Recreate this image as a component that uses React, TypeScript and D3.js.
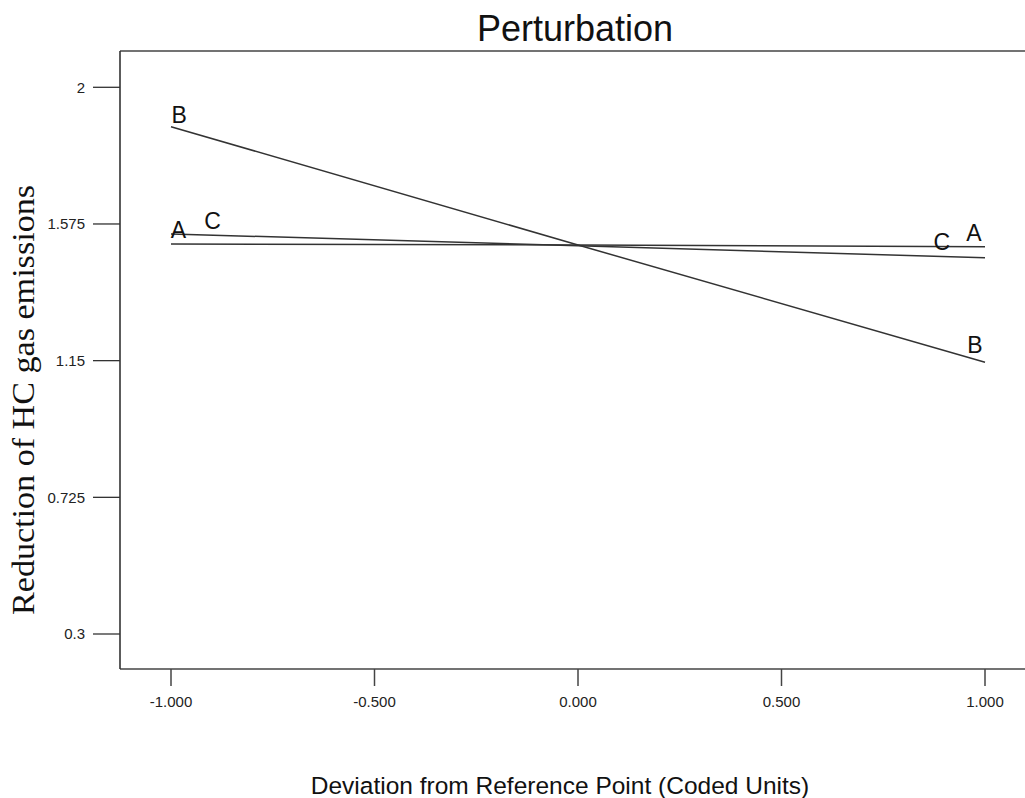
import React from "react";
import * as d3 from "d3";

// Coded deviation points
const deviations = [-1, 0, 1];
// Series values (Reduction of HC gas emissions)
const seriesA = [1.513, 1.5095, 1.504];
const seriesB = [1.8775, 1.5097, 1.145];
const seriesC = [1.544, 1.507, 1.47];
const seriesNames = ["A", "B", "C"];
// Label positions (coded units) for each series: [left, right]
const labelPosA = [-0.982, 0.973];
const labelPosB = [-0.98, 0.975];
const labelPosC = [-0.898, 0.894];

const xTicks = [-1, -0.5, 0, 0.5, 1];
const xTickLabels = ["-1.000", "-0.500", "0.000", "0.500", "1.000"];
const yTicks = [0.3, 0.725, 1.15, 1.575, 2];
const yTickLabels = ["0.3", "0.725", "1.15", "1.575", "2"];

const W = 1025;
const H = 798;
const frameLeft = 120;
const frameTop = 51;
const frameBottom = 669;

export default function App() {
  const x = d3.scaleLinear().domain([-1, 1]).range([171, 985]);
  const y = d3.scaleLinear().domain([0.3, 2]).range([634, 87.3]);

  const series = [
    { name: seriesNames[0], values: seriesA, labels: labelPosA },
    { name: seriesNames[1], values: seriesB, labels: labelPosB },
    { name: seriesNames[2], values: seriesC, labels: labelPosC },
  ];

  const line = d3
    .line<number>()
    .x((_, i) => x(deviations[i]))
    .y((d) => y(d));

  const interp = (vals: number[], t: number) =>
    d3.scaleLinear().domain(deviations).range(vals)(t);

  const stroke = "#333";
  const sans = "Arial, 'Liberation Sans', sans-serif";
  const serif = "'Times New Roman', 'Liberation Serif', serif";

  return (
    <svg
      width={W}
      height={H}
      style={{ position: "absolute", left: 0, top: 0, background: "#fff" }}
    >
      <rect x={0} y={0} width={W} height={H} fill="#fff" />
      {/* title */}
      <text
        x={575}
        y={41}
        textAnchor="middle"
        fontFamily={sans}
        fontSize={36}
        fill="#111"
      >
        Perturbation
      </text>
      {/* frame */}
      <line x1={frameLeft} x2={W} y1={frameTop} y2={frameTop} stroke="#444" strokeWidth={1.6} />
      <line x1={frameLeft} x2={W} y1={frameBottom} y2={frameBottom} stroke="#444" strokeWidth={1.6} />
      <line x1={frameLeft} x2={frameLeft} y1={frameTop} y2={frameBottom} stroke="#333" strokeWidth={1.6} />

      {/* y ticks */}
      {yTicks.map((t, i) => (
        <g key={"y" + i}>
          <line x1={93} x2={frameLeft} y1={y(t)} y2={y(t)} stroke="#333" strokeWidth={1.3} />
          <text
            x={85}
            y={y(t)}
            dy="0.35em"
            textAnchor="end"
            fontFamily={sans}
            fontSize={15}
            fill="#222"
          >
            {yTickLabels[i]}
          </text>
        </g>
      ))}

      {/* x ticks */}
      {xTicks.map((t, i) => (
        <g key={"x" + i}>
          <line x1={x(t)} x2={x(t)} y1={frameBottom} y2={686} stroke="#444" strokeWidth={1.5} />
          <text
            x={x(t)}
            y={707}
            textAnchor="middle"
            fontFamily={sans}
            fontSize={15}
            fill="#222"
          >
            {xTickLabels[i]}
          </text>
        </g>
      ))}

      {/* series lines */}
      {series.map((s) => (
        <path key={s.name} d={line(s.values) || ""} fill="none" stroke={stroke} strokeWidth={1.5} />
      ))}

      {/* series labels */}
      {series.map((s) =>
        s.labels.map((lp, j) => (
          <text
            key={s.name + j}
            x={x(lp)}
            y={y(interp(s.values, lp)) - 6}
            textAnchor="middle"
            fontFamily={sans}
            fontSize={23}
            fill="#111"
          >
            {s.name}
          </text>
        ))
      )}

      {/* axis titles */}
      <text
        x={560}
        y={794}
        textAnchor="middle"
        fontFamily={sans}
        fontSize={24.5}
        fill="#111"
      >
        Deviation from Reference Point (Coded Units)
      </text>
      <text
        transform={`translate(34, 400) rotate(-90)`}
        textAnchor="middle"
        fontFamily={serif}
        fontSize={31}
        fill="#111"
        textLength={430}
        lengthAdjust="spacingAndGlyphs"
      >
        Reduction of HC gas emissions
      </text>
    </svg>
  );
}
